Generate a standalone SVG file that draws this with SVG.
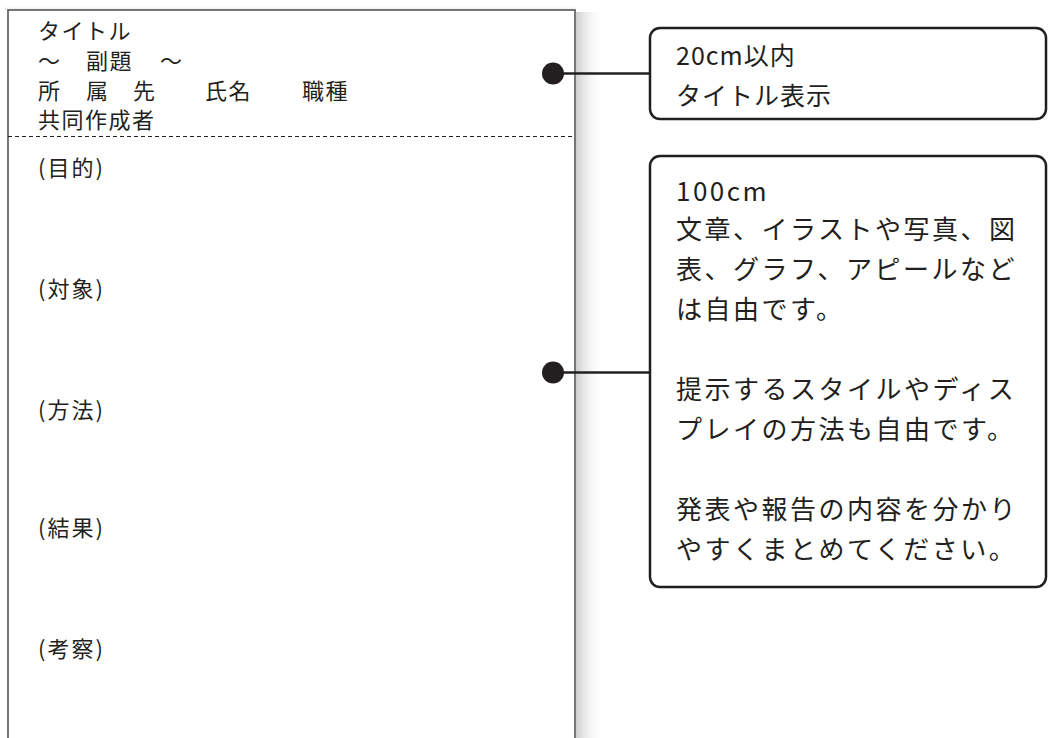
<svg xmlns="http://www.w3.org/2000/svg" width="1049" height="738" viewBox="0 0 1049 738">
  <style>
    text { font-family: "Noto Sans CJK JP", "Noto Sans", sans-serif; fill: #231f20; }
    .p { font-size: 22px; letter-spacing: 1.5px; }
    .s { font-size: 22px; letter-spacing: 2px; }
    .b1 { font-size: 25px; letter-spacing: 1px; }
    .b2 { font-size: 26px; letter-spacing: 2.5px; }
    .box { fill: #ffffff; stroke: #231f20; stroke-width: 2.5; }
    .conn { stroke: #231f20; stroke-width: 2.5; fill: none; }
    .dot { fill: #231f20; }
  </style>
  <defs>
    <linearGradient id="shadow" x1="0" y1="0" x2="1" y2="0">
      <stop offset="0" stop-color="#cfcfcf"/>
      <stop offset="1" stop-color="#ffffff" stop-opacity="0"/>
    </linearGradient>
    <linearGradient id="shadowTop" x1="0" y1="1" x2="0" y2="0">
      <stop offset="0" stop-color="#e6e6e6"/>
      <stop offset="1" stop-color="#ffffff" stop-opacity="0"/>
    </linearGradient>
  </defs>
  <rect width="1049" height="738" fill="#ffffff"/>

  <g id="poster">
    <rect x="576" y="12" width="28" height="726" fill="url(#shadow)"/>
    <rect x="4" y="5" width="572" height="5" fill="url(#shadowTop)"/>
    <rect x="8" y="10" width="567" height="740" fill="#ffffff" stroke="#555555" stroke-width="1.6"/>
    <line x1="8" y1="136.5" x2="575" y2="136.5" stroke="#231f20" stroke-width="1.2" stroke-dasharray="4 3"/>
    <text class="p" x="38" y="38.5">タイトル</text>
    <text class="p" y="68.5"><tspan x="38">〜</tspan><tspan x="86">副題</tspan><tspan x="160">〜</tspan></text>
    <text class="p" y="98.5"><tspan x="38">所</tspan><tspan x="86">属</tspan><tspan x="133">先</tspan><tspan x="205">氏名</tspan><tspan x="302">職種</tspan></text>
    <text class="p" x="38" y="128">共同作成者</text>
    <text class="s" x="38" y="175.5">(目的)</text>
    <text class="s" x="38" y="297">(対象)</text>
    <text class="s" x="38" y="417.5">(方法)</text>
    <text class="s" x="38" y="536">(結果)</text>
    <text class="s" x="38" y="656.5">(考察)</text>
  </g>

  <g id="connectors">
    <line class="conn" x1="553" y1="73.5" x2="650" y2="73.5"/>
    <circle class="dot" cx="553" cy="73.5" r="11"/>
    <line class="conn" x1="553" y1="372.5" x2="650" y2="372.5"/>
    <circle class="dot" cx="553" cy="372.5" r="11"/>
  </g>

  <g id="note-title">
    <rect class="box" x="650" y="28" width="396" height="91" rx="10" ry="10"/>
    <text class="b1" x="676" y="65">20cm以内</text>
    <text class="b1" x="676" y="105">タイトル表示</text>
  </g>

  <g id="note-body">
    <rect class="box" x="650" y="156" width="396" height="431" rx="10" ry="10"/>
    <text class="b2" x="676" y="201">100cm</text>
    <text class="b2" x="676" y="239">文章、イラストや写真、図</text>
    <text class="b2" x="676" y="279">表、グラフ、アピールなど</text>
    <text class="b2" x="676" y="319">は自由です。</text>
    <text class="b2" x="676" y="399">提示するスタイルやディス</text>
    <text class="b2" x="676" y="439">プレイの方法も自由です。</text>
    <text class="b2" x="676" y="519">発表や報告の内容を分かり</text>
    <text class="b2" x="676" y="559">やすくまとめてください。</text>
  </g>
</svg>
